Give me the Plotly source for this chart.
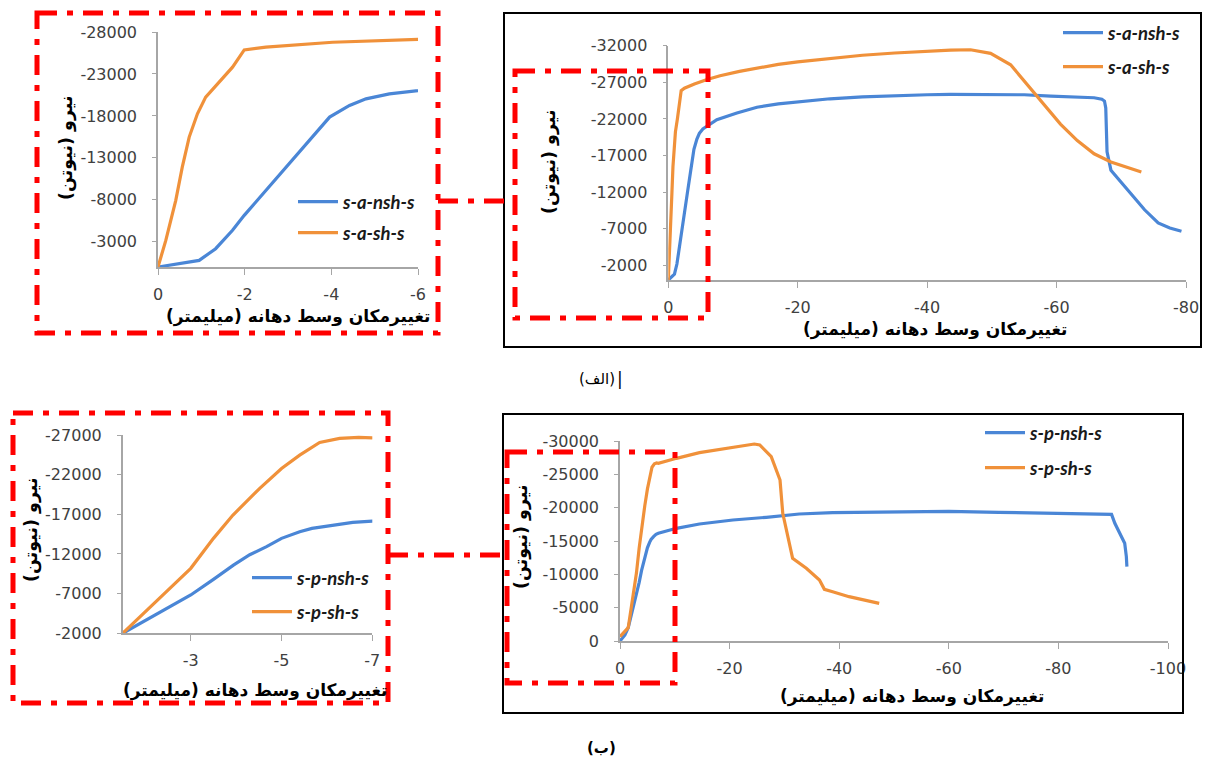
import plotly.graph_objects as go

W, H = 1205, 762

# ---------------- data (displacement in mm, force in N) ----------------
a_nsh_x = [0, -0.49, -0.95, -1.33, -1.72, -1.99, -2.49, -2.95, -3.42, -3.96, -4.42, -4.8, -5.34, -6.0,
           -7.5, -10.6, -13.7, -17, -20, -25, -30, -35, -40, -43.6, -50, -55, -59.1, -63, -65.8,
           -67.0, -67.4, -67.6, -67.8, -68.4, -71, -73.6, -75.7, -77.5, -79.3]
a_nsh_y = [0, -400, -790, -2180, -4370, -6150, -9130, -11900, -14680, -17860, -19250, -20040, -20630, -21030,
           -21900, -22800, -23600, -24050, -24350, -24750, -25000, -25200, -25300, -25340, -25350, -25300, -25110, -25000, -24890,
           -24700, -24440, -23500, -17500, -15000, -12290, -9590, -7790, -7100, -6660]

a_sh_x = [0, -0.18, -0.41, -0.56, -0.72, -0.91, -1.1, -1.41, -1.72, -1.99, -2.49, -4.03, -6.0, -8, -11, -14.1,
          -17, -20, -25, -30, -35, -40, -43.6, -46.7, -49.8, -52.9, -55.5, -58.1, -60.6, -63.2, -65.8,
          -68.4, -71, -73.1]
a_sh_y = [0, -3170, -7940, -11900, -15480, -18250, -20240, -22020, -23810, -25870, -26190, -26780, -27380, -27900, -28500, -29000,
          -29450, -29800, -30300, -30700, -31000, -31250, -31400, -31450, -30960, -29390, -26690, -23990, -21290, -19035, -17240,
          -16110, -15350, -14760]

p_nsh_x = [0, -0.9, -1.5, -2.4, -3.0, -3.5, -3.94, -4.3, -4.67, -5.0, -5.4, -5.67, -6.12, -6.57, -7.0, -8.5, -10.3,
           -14.5, -20.6, -26.7, -32.7, -38.8, -50.3, -60, -69.1, -80, -89.7, -90.3, -92.1, -92.4, -92.5]
p_nsh_y = [0, -900, -2000, -4900, -6830, -8800, -10600, -11900, -12920, -13970, -14800, -15230, -15650, -15990, -16150, -16500, -16900,
           -17550, -18150, -18550, -19050, -19250, -19400, -19450, -19300, -19150, -19000, -17650, -14650, -12650, -11150]

p_sh_x = [0, -0.5, -1.2, -1.5, -2.4, -3.0, -3.5, -3.93, -4.52, -5.0, -5.4, -5.84, -6.28, -6.7, -7.0,
          -8.5, -10.3, -14.5, -20.6, -24.5, -25.5, -27.6, -29.2, -29.7, -31.5, -34, -36.4, -37.3, -38.8, -41.8, -47.3]
p_sh_y = [-650, -1100, -1700, -2000, -6900, -10190, -13970, -16910, -20270, -22780, -24460, -26060, -26570, -26700, -26650,
          -27000, -27400, -28250, -29050, -29550, -29400, -27650, -24150, -19150, -12400, -10900, -9150, -7750, -7400, -6650, -5650]

names = ["s-a-nsh-s", "s-a-sh-s", "s-p-nsh-s", "s-p-sh-s"]

p1_xticks = [0, -2, -4, -6]
p1_yticks = [-3000, -8000, -13000, -18000, -23000, -28000]
p2_xticks = [0, -20, -40, -60, -80]
p2_yticks = [-2000, -7000, -12000, -17000, -22000, -27000, -32000]
p3_xticks = [-3, -5, -7]
p3_yticks = [-2000, -7000, -12000, -17000, -22000, -27000]
p4_xticks = [0, -20, -40, -60, -80, -100]
p4_yticks = [0, -5000, -10000, -15000, -20000, -25000, -30000]

x_title = "تغییرمکان وسط دهانه (میلیمتر)"
y_title = "نیرو (نیوتن)"
cap_a = "(الف)"
cap_b = "(ب)"

# ---------------- styling ----------------
BLUE = "#4A86D6"
ORANGE = "#F0913A"
AX = "#A6A6A6"
RED = "#FF0000"
TICKFONT = dict(family="DejaVu Sans, sans-serif", size=16, color="#404040")
FA_FONT = "DejaVu Sans"


def fx(p):
    return p / W


def fy(p):
    return 1 - p / H


def xaxis(x0, x1, rng, ticks, anchor):
    return dict(domain=[fx(x0), fx(x1)], range=rng, tickvals=ticks, ticktext=[str(t) for t in ticks],
                showline=True, linecolor=AX, linewidth=1.5, ticks="outside", ticklen=6, tickwidth=1.2,
                tickcolor=AX, showgrid=False, zeroline=False, tickfont=TICKFONT, ticklabelstandoff=6,
                anchor=anchor, fixedrange=True, automargin=False)


def yaxis(y_top, y_bot, rng, ticks, anchor):
    return dict(domain=[fy(y_bot), fy(y_top)], range=rng, tickvals=ticks, ticktext=[str(t) for t in ticks],
                showline=True, linecolor=AX, linewidth=1.5, ticks="outside", ticklen=4, tickwidth=1.2,
                tickcolor=AX, showgrid=False, zeroline=False, tickfont=TICKFONT, ticklabelstandoff=12,
                anchor=anchor, fixedrange=True, automargin=False)


fig = go.Figure()

series = [(a_nsh_x, a_nsh_y, BLUE), (a_sh_x, a_sh_y, ORANGE), (p_nsh_x, p_nsh_y, BLUE), (p_sh_x, p_sh_y, ORANGE)]
placements = [
    (0, "x", "y", "legend"), (1, "x", "y", "legend2"),
    (0, "x2", "y2", "legend3"), (1, "x2", "y2", "legend4"),
    (2, "x3", "y3", "legend5"), (3, "x3", "y3", "legend6"),
    (2, "x4", "y4", "legend7"), (3, "x4", "y4", "legend8"),
]
for si, xa, ya, lg in placements:
    xs, ys, col = series[si]
    fig.add_trace(go.Scatter(x=xs, y=ys, mode="lines", name=names[si], xaxis=xa, yaxis=ya,
                             line=dict(color=col, width=3.2), legend=lg, showlegend=True))

layout = dict(
    width=W, height=H, margin=dict(l=0, r=0, t=0, b=0, pad=0, autoexpand=False), autosize=False,
    paper_bgcolor="white", plot_bgcolor="rgba(0,0,0,0)",
    xaxis=xaxis(158, 418, [0, -6], p1_xticks, "y"),
    yaxis=yaxis(32, 267, [0, -28000], p1_yticks, "x"),
    xaxis2=xaxis(668.3, 1186, [0, -80], p2_xticks, "y2"),
    yaxis2=yaxis(45.7, 280, [0, -32000], p2_yticks, "x2"),
    xaxis3=xaxis(122.7, 372.3, [-1.5, -7], p3_xticks, "y3"),
    yaxis3=yaxis(435, 633.3, [-2000, -27000], p3_yticks, "x3"),
    xaxis4=xaxis(620, 1168, [0, -100], p4_xticks, "y4"),
    yaxis4=yaxis(441, 641, [0, -30000], p4_yticks, "x4"),
)

LEGFONT = dict(family="Lato, sans-serif", size=18.5, color="#1a1a1a", weight="bold", style="italic")
leg_pos = {
    "legend": (293, 202), "legend2": (293, 233),
    "legend3": (1058, 33), "legend4": (1058, 67),
    "legend5": (247, 578), "legend6": (247, 612),
    "legend7": (980, 433), "legend8": (980, 468),
}
for k, (px, py) in leg_pos.items():
    layout[k] = dict(x=fx(px), y=fy(py), xanchor="left", yanchor="middle", bgcolor="rgba(0,0,0,0)",
                     borderwidth=0, font=LEGFONT, itemclick=False, itemdoubleclick=False, itemwidth=40)

fig.update_layout(**layout)

# ---------------- frames & connectors ----------------
DASH = "20px,10px,6px,10px"


def rect(x0, y0, x1, y1, color, width, dash="solid"):
    fig.add_shape(type="rect", xref="paper", yref="paper", x0=fx(x0), x1=fx(x1), y0=fy(y0), y1=fy(y1),
                  line=dict(color=color, width=width, dash=dash), fillcolor="rgba(0,0,0,0)", layer="above")


def hline(x0, x1, y, color, width, dash):
    fig.add_shape(type="line", xref="paper", yref="paper", x0=fx(x0), x1=fx(x1), y0=fy(y), y1=fy(y),
                  line=dict(color=color, width=width, dash=dash), layer="above")


rect(504, 13, 1201, 347, "black", 2)
rect(503, 414, 1183, 713, "black", 2)
rect(37, 13, 438, 333, RED, 5, DASH)
rect(515, 71, 708, 318, RED, 5, DASH)
rect(13, 413, 388, 703, RED, 5, DASH)
rect(507, 452, 675, 683, RED, 5, DASH)
hline(438, 512, 201, RED, 5, DASH)
hline(388, 504, 555, RED, 5, DASH)


# ---------------- axis titles & captions ----------------
def note(text, x, y, size=15, angle=0, bold=True):
    fig.add_annotation(text=f"<b>{text}</b>" if bold else text, xref="paper", yref="paper",
                       x=fx(x), y=fy(y), xanchor="center", yanchor="middle", showarrow=False,
                       textangle=angle, font=dict(family=FA_FONT, size=size, color="black"))


for (tx, ty, yx, yy) in [(298, 316, 66, 148), (935, 329, 549, 162), (255, 690, 31, 530), (912, 696, 521, 537)]:
    note(x_title, tx, ty, size=17)
    note(y_title, yx, yy, size=17.5, angle=-90)

note(cap_a, 597, 379, size=15, bold=False)
note("|", 620, 379, size=17, bold=False)
note(cap_b, 601, 748, size=15)

fig.write_html("out.html", config={"responsive": False, "displayModeBar": False},
               post_script="document.body.style.margin='0px';document.body.style.overflow='hidden';")
